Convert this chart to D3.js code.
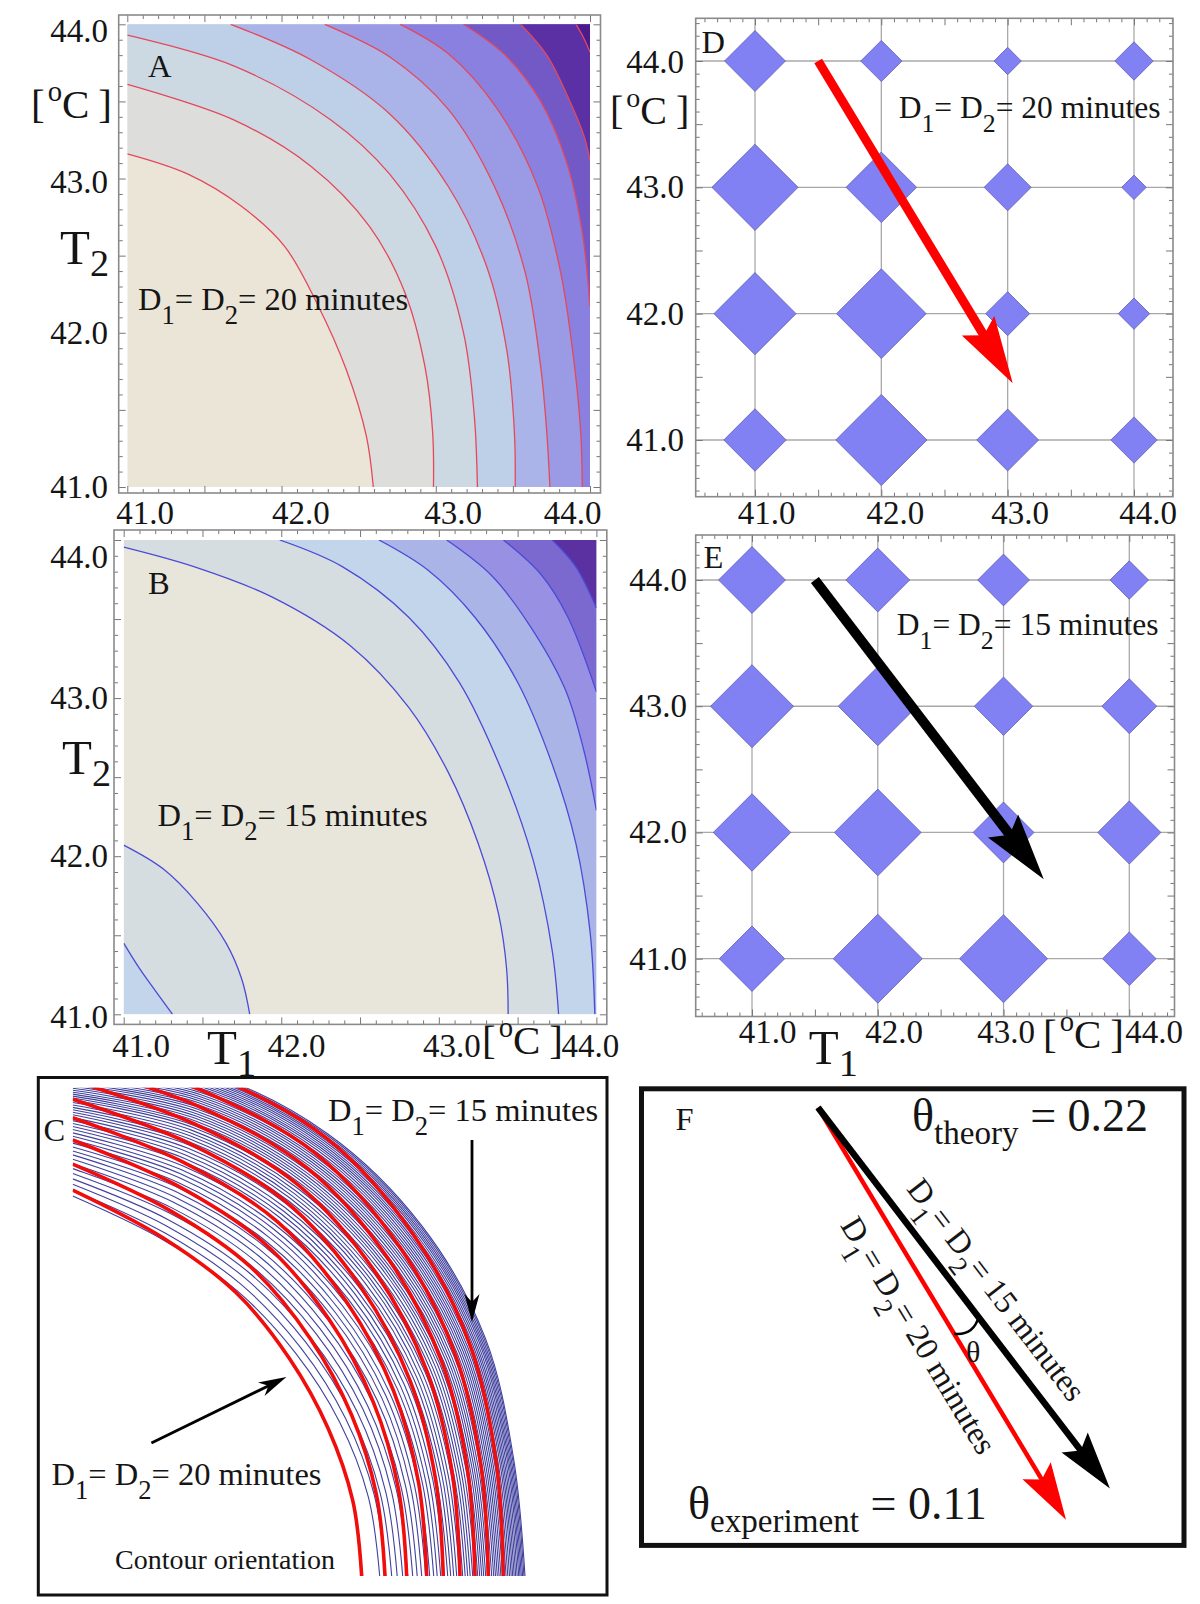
<!DOCTYPE html>
<html><head><meta charset="utf-8">
<script src="https://cdn.jsdelivr.net/npm/d3@7"></script>
<style>
body{margin:0;background:#fff}
svg{display:block}
text{font-family:"Liberation Serif","Times New Roman",Times,serif;fill:#151515}
</style></head>
<body><svg id="fig" width="1200" height="1604"></svg>
<script>
// ================= DATA =================
const axisTicks = [41, 42, 43, 44];
const axisTickLabels = ["41.0", "42.0", "43.0", "44.0"];

// Panel A (D1 = D2 = 20 min) contour lines, [T1, T2] points, ordered toward the hot corner
const contourA1 = [[41.0,43.16],[41.39,43.03],[41.74,42.82],[42.02,42.56],[42.23,42.19],[42.42,41.76],[42.55,41.33],[42.595,41.0]];
const contourA2 = [[41.0,43.61],[41.69,43.38],[42.19,43.08],[42.57,42.69],[42.80,42.26],[42.93,41.78],[42.98,41.35],[42.985,41.0]];
const contourA3 = [[41.0,43.93],[41.69,43.73],[42.32,43.38],[42.70,43.03],[43.00,42.56],[43.18,42.0],[43.25,41.46],[43.27,41.0]];
const contourA4 = [[41.67,44.0],[42.19,43.77],[42.70,43.42],[43.08,42.95],[43.33,42.43],[43.46,41.89],[43.51,41.35],[43.515,41.0]];
const contourA5 = [[42.28,44.0],[42.70,43.79],[43.08,43.45],[43.38,42.95],[43.58,42.39],[43.68,41.78],[43.72,41.35],[43.74,41.0]];
const contourA6 = [[42.77,44.0],[43.08,43.81],[43.40,43.45],[43.66,42.95],[43.81,42.39],[43.90,41.78],[43.94,41.35],[43.95,41.0]];
const contourA7 = [[43.18,44.0],[43.45,43.80],[43.68,43.50],[43.85,43.10],[43.95,42.65],[44.0,42.17]];
const contourA8 = [[43.55,44.0],[43.72,43.80],[43.87,43.50],[43.96,43.28],[44.0,43.12]];
const contourA9 = [[43.91,44.0],[43.96,43.91],[44.0,43.82]];

// Panel B (D1 = D2 = 15 min) contour lines
const contourB1 = [[41.0,43.955],[41.45,43.83],[41.94,43.64],[42.44,43.33],[42.81,42.94],[43.06,42.53],[43.25,42.08],[43.38,41.63],[43.43,41.29],[43.44,41.0]];
const contourB2 = [[41.99,44.0],[42.39,43.83],[42.81,43.51],[43.13,43.10],[43.40,42.54],[43.60,41.97],[43.72,41.40],[43.76,41.0]];
const contourB3 = [[42.62,44.0],[42.93,43.81],[43.23,43.51],[43.50,43.10],[43.72,42.58],[43.87,42.08],[43.96,41.52],[43.99,41.0]];
const contourB4 = [[43.05,44.0],[43.33,43.78],[43.57,43.47],[43.80,43.06],[43.92,42.67],[44.0,42.29]];
const contourB5 = [[43.41,44.0],[43.65,43.78],[43.82,43.51],[44.0,43.04]];
const contourB6 = [[43.72,44.0],[43.87,43.83],[44.0,43.57]];
const contourBlow1 = [[41.0,42.07],[41.25,41.92],[41.47,41.70],[41.65,41.45],[41.75,41.22],[41.80,41.0]];
const contourBlow2 = [[41.0,41.45],[41.10,41.29],[41.20,41.15],[41.31,41.0]];

// Panel D diamonds (half-diagonal, in deg C) per T2 row, T1 = 41..44
const diamondD_T41 = [0.247, 0.361, 0.245, 0.183];
const diamondD_T42 = [0.325, 0.355, 0.174, 0.124];
const diamondD_T43 = [0.341, 0.279, 0.186, 0.097];
const diamondD_T44 = [0.241, 0.163, 0.108, 0.152];
// Panel E diamonds
const diamondE_T41 = [0.260, 0.354, 0.350, 0.213];
const diamondE_T42 = [0.308, 0.345, 0.242, 0.251];
const diamondE_T43 = [0.330, 0.314, 0.232, 0.218];
const diamondE_T44 = [0.266, 0.254, 0.206, 0.153];
// gradient arrows [T1, T2]
const arrowD = [[41.5, 44.0], [43.04, 41.45]];
const arrowE = [[41.5, 44.0], [43.32, 41.63]];

// Panel C: contour families, polar templates (angle deg -> radius units), bottom intercepts
const templateAngles = [0, 15, 30, 45, 60, 75, 90];
const redInner  = [57.8, 58.0, 59.0, 61.4, 65.4, 70.0, 77.2];
const redOuter  = [86.4, 88.0, 92.2, 96.8, 101.6, 104.4, 109.0];
const blueInner = [61.2, 61.0, 61.4, 62.8, 65.6, 69.4, 75.8];
const blueOuter = [90.4, 91.2, 95.2, 98.8, 102.0, 104.0, 104.4];
const redBottoms = [57.8, 62.46, 66.8, 70.8, 74.12, 77.46, 80.46, 83.12, 86.12];
const blueBottoms = [61.4,62.6,63.8,64.9,66.0,67.0,68.0,68.9,69.8,70.6,71.4,72.2,72.9,73.6,74.3,75.0,75.6,76.2,76.8,77.4,78.0,78.5,79.0,79.5,80.0,80.5,81.0,81.4,81.8,82.2,82.6,83.0,83.4,83.8,84.2,84.56,84.92,85.28,85.64,86.0,86.34,86.68,87.02,87.36,87.7,88.0,88.3,88.6,88.9,89.2,89.46,89.72,89.98,90.24,90.46];

// Panel F: orientation of gradient vectors (deg) and angles
const fDirections = [52.54, 58.96];   // black (15 min), red (20 min)
const fLengths = [1.0, 1.002];
const thetaTheory = 0.22;
const thetaExperiment = 0.11;

// ================= STYLE =================
const paletteA = ["#ebe5d7","#dddedb","#ccd9e2","#bed0e8","#abb4e9","#9b9ae5","#8a80df","#7259c5","#5a30a4","#4b1b8d"];
const paletteB = ["#e8e5da","#d6dde1","#c2d5ea","#aab4e7","#9891e3","#7b69d0","#5b30a1"];
const frameColor = "#8a8a8a";
const TICK_FS = 33, LABEL_FS = 32.5, EQ_FS = 32.5, EQ_FS_DE = 31.5;

const svg = d3.select("#fig");

// ================= HELPERS =================
function richText(g, x, y, parts, size, anchor) {
  const t = g.append("text").attr("x", x).attr("y", y).attr("font-size", size)
    .attr("text-anchor", anchor || "start");
  let shift = 0;
  parts.forEach(p => {
    const target = p.sub ? p.sub : (p.sup ? -p.sup : 0);
    const ts = t.append("tspan").text(p.t);
    if (target - shift !== 0) ts.attr("dy", target - shift);
    if (p.dx) ts.attr("dx", p.dx);
    if (p.size) ts.attr("font-size", p.size);
    shift = target;
  });
  return t;
}
const NB = "\u00A0";
function dEq(n) {
  return [{t:"D"},{t:"1",sub:14,size:"0.82em"},{t:"="+NB+"D"},{t:"2",sub:14,size:"0.82em"},{t:"="+NB+n+NB+"minutes"}];
}
const degC = [{t:"["},{t:"o",sup:17,size:"0.7em",dx:3},{t:"C"},{t:"]",dx:9}];
function tLabel(n) { return [{t:"T"},{t:n,sub:12,size:"0.78em"}]; }

function frameTicks(g, rect, xs, ys) {
  const [x1,y1,x2,y2] = rect;
  const xd = [xs.invert(x1), xs.invert(x2)].sort((a,b)=>a-b);
  const yd = [ys.invert(y2), ys.invert(y1)].sort((a,b)=>a-b);
  const vals = (lo,hi) => d3.range(Math.ceil(lo*10+1e-6), Math.floor(hi*10-1e-6)+1).map(v=>v/10);
  const xv = vals(xd[0], xd[1]), yv = vals(yd[0], yd[1]);
  const isMajor = v => Math.abs(v*2 - Math.round(v*2)) < 1e-6;
  const sets = [[xv.filter(v=>!isMajor(v)), 4], [xv.filter(isMajor), 7]];
  const ysets = [[yv.filter(v=>!isMajor(v)), 4], [yv.filter(isMajor), 7]];
  sets.forEach(([v,len]) => {
    g.append("g").attr("transform",`translate(0,${y2})`).call(d3.axisBottom(xs).tickValues(v).tickSize(-len).tickFormat(""));
    g.append("g").attr("transform",`translate(0,${y1})`).call(d3.axisTop(xs).tickValues(v).tickSize(-len).tickFormat(""));
  });
  ysets.forEach(([v,len]) => {
    g.append("g").attr("transform",`translate(${x1},0)`).call(d3.axisLeft(ys).tickValues(v).tickSize(-len).tickFormat(""));
    g.append("g").attr("transform",`translate(${x2},0)`).call(d3.axisRight(ys).tickValues(v).tickSize(-len).tickFormat(""));
  });
  g.selectAll(".domain").remove();
  g.selectAll(".tick line").attr("stroke", "#777").attr("stroke-width", 1);
  g.append("rect").attr("x",x1).attr("y",y1).attr("width",x2-x1).attr("height",y2-y1)
    .attr("fill","none").attr("stroke",frameColor).attr("stroke-width",1.6);
}

function tickLabels(g, xs, ys, o) {
  axisTicks.forEach((v,i) => {
    g.append("text").attr("x", xs(v) + o.xdx[i]).attr("y", o.xBase)
      .attr("text-anchor","middle").attr("font-size",TICK_FS).text(axisTickLabels[i]);
    g.append("text").attr("x", o.yRight).attr("y", ys(v) + o.ydy[i] + 11)
      .attr("text-anchor","end").attr("font-size",TICK_FS).text(axisTickLabels[i]);
  });
}

function drawArrow(g, x1, y1, x2, y2, o) {
  const dx = x2-x1, dy = y2-y1, L = Math.hypot(dx,dy), ux = dx/L, uy = dy/L, nx = -uy, ny = ux;
  const bx = x2 - ux*o.headL, by = y2 - uy*o.headL;
  const mX = x2 - ux*(o.headL - o.notch), mY = y2 - uy*(o.headL - o.notch);
  g.append("line").attr("x1",x1).attr("y1",y1).attr("x2",mX+ux*2).attr("y2",mY+uy*2)
    .attr("stroke",o.color).attr("stroke-width",o.shaft);
  g.append("path").attr("d",`M${x2},${y2}L${bx+nx*o.headW/2},${by+ny*o.headW/2}L${mX},${mY}L${bx-nx*o.headW/2},${by-ny*o.headW/2}Z`)
    .attr("fill",o.color);
}

function bandPath(xs, ys, pts, corner) {
  const line = d3.line().x(d=>xs(d[0])).y(d=>ys(d[1])).curve(d3.curveCatmullRom.alpha(0.5));
  let d = line(pts);
  const extra = [];
  if (corner === "tr") {
    const first = pts[0], last = pts[pts.length-1];
    if (last[1] <= 41.0001) extra.push([44,41]);
    extra.push([44,44]);
    if (first[0] <= 41.0001) extra.push([41,44]);
  } else {
    extra.push([41,41]);
  }
  extra.forEach(p => { d += `L${xs(p[0])},${ys(p[1])}`; });
  return d + "Z";
}

function contourPanel(id, xs, ys, bands, palette, lineColor) {
  const g = svg.append("g");
  const clipId = "clip" + id;
  g.append("clipPath").attr("id", clipId).append("rect")
    .attr("x", xs(41)).attr("y", ys(44)).attr("width", xs(44)-xs(41)).attr("height", ys(41)-ys(44));
  const body = g.append("g").attr("clip-path", `url(#${clipId})`);
  body.append("rect").attr("x", xs(41)).attr("y", ys(44)).attr("width", xs(44)-xs(41)).attr("height", ys(41)-ys(44))
    .attr("fill", palette[0]);
  bands.forEach(b => body.append("path").attr("d", bandPath(xs, ys, b.pts, b.corner)).attr("fill", palette[b.color]));
  const line = d3.line().x(d=>xs(d[0])).y(d=>ys(d[1])).curve(d3.curveCatmullRom.alpha(0.5));
  bands.forEach(b => body.append("path").attr("d", line(b.pts)).attr("fill","none")
    .attr("stroke", lineColor).attr("stroke-width", 1.3));
  return g;
}

// ================= PANEL A =================
const xA = d3.scaleLinear().domain([41,44]).range([127.3,590]);
const yA = d3.scaleLinear().domain([41,44]).range([487,24.3]);
const gA = contourPanel("A", xA, yA, [
  {pts:contourA1,corner:"tr",color:1},{pts:contourA2,corner:"tr",color:2},{pts:contourA3,corner:"tr",color:3},
  {pts:contourA4,corner:"tr",color:4},{pts:contourA5,corner:"tr",color:5},{pts:contourA6,corner:"tr",color:6},
  {pts:contourA7,corner:"tr",color:7},{pts:contourA8,corner:"tr",color:8},{pts:contourA9,corner:"tr",color:9}
], paletteA, "#e4485a");
frameTicks(gA, [118.7,15,600.5,493], xA, yA);
tickLabels(gA, xA, yA, {xdx:[17.7,19.3,17.3,-17.5], xBase:524, yRight:108, ydy:[0,0,3.5,7]});
gA.append("text").attr("x",148).attr("y",77).attr("font-size",LABEL_FS).text("A");
richText(gA, 138, 310, dEq("20"), EQ_FS);
richText(gA, 31, 118, degC, 41);
richText(gA, 60, 264, tLabel("2"), 49);

// ================= PANEL B =================
const xB = d3.scaleLinear().domain([41,44]).range([123.7,596.4]);
const yB = d3.scaleLinear().domain([41,44]).range([1014.3,540]);
const gB = contourPanel("B", xB, yB, [
  {pts:contourB1,corner:"tr",color:1},{pts:contourB2,corner:"tr",color:2},{pts:contourB3,corner:"tr",color:3},
  {pts:contourB4,corner:"tr",color:4},{pts:contourB5,corner:"tr",color:5},{pts:contourB6,corner:"tr",color:6},
  {pts:contourBlow1,corner:"bl",color:1},{pts:contourBlow2,corner:"bl",color:2}
], paletteB, "#4b4bd6");
frameTicks(gB, [114,530,606.8,1024.4], xB, yB);
tickLabels(gB, xB, yB, {xdx:[17.3,15.3,13,-6], xBase:1057, yRight:108, ydy:[2.7,0,0,17]});
gB.append("text").attr("x",148).attr("y",594).attr("font-size",LABEL_FS).text("B");
richText(gB, 157.5, 826, dEq("15"), EQ_FS);
richText(gB, 62, 774, tLabel("2"), 49);
richText(gB, 207, 1064, tLabel("1"), 49);
richText(gB, 482, 1054, degC, 41);

// ================= PANELS D, E =================
function diamondPanel(xs, ys, rect, rows, arrow, arrowColor, o) {
  const g = svg.append("g");
  const [x1,y1,x2,y2] = rect;
  g.append("rect").attr("x",x1).attr("y",y1).attr("width",x2-x1).attr("height",y2-y1).attr("fill","#fff");
  axisTicks.forEach(v => {
    g.append("line").attr("x1",x1).attr("x2",x2).attr("y1",ys(v)).attr("y2",ys(v)).attr("stroke","#a9a9a9").attr("stroke-width",1.3);
    g.append("line").attr("y1",y1).attr("y2",y2).attr("x1",xs(v)).attr("x2",xs(v)).attr("stroke","#a9a9a9").attr("stroke-width",1.3);
  });
  const cells = [];
  rows.forEach((row, j) => row.forEach((v, i) => cells.push({t1: axisTicks[i], t2: axisTicks[j], v})));
  g.selectAll("path.dia").data(cells).enter().append("path").attr("class","dia")
    .attr("d", d => {
      const cx = xs(d.t1), cy = ys(d.t2), r = xs(41 + d.v) - xs(41);
      return `M${cx},${cy-r}L${cx+r},${cy}L${cx},${cy+r}L${cx-r},${cy}Z`;
    })
    .attr("fill","#8181f3").attr("stroke","#5c5cb8").attr("stroke-width",0.8);
  drawArrow(g, xs(arrow[0][0]), ys(arrow[0][1]), xs(arrow[1][0]), ys(arrow[1][1]),
    {color: arrowColor, shaft: o.shaft, headL: 67, headW: 38, notch: 11});
  frameTicks(g, rect, xs, ys);
  return g;
}
const xD = d3.scaleLinear().domain([41,44]).range([755,1134]);
const yD = d3.scaleLinear().domain([41,44]).range([440,61]);
const gD = diamondPanel(xD, yD, [695.7,18.3,1173,496.7],
  [diamondD_T41, diamondD_T42, diamondD_T43, diamondD_T44], arrowD, "#ff0000", {shaft: 9});
tickLabels(gD, xD, yD, {xdx:[11.6,14,12.4,14], xBase:524, yRight:684, ydy:[0,0,0,0.5]});
gD.append("text").attr("x",701.5).attr("y",53).attr("font-size",LABEL_FS).text("D");
richText(gD, 898.7, 118, dEq("20"), EQ_FS_DE);
richText(gD, 610, 124, degC, 40);

const xE = d3.scaleLinear().domain([41,44]).range([752,1129.3]);
const yE = d3.scaleLinear().domain([41,44]).range([958.7,580]);
const gE = diamondPanel(xE, yE, [695.7,535,1174.5,1016.5],
  [diamondE_T41, diamondE_T42, diamondE_T43, diamondE_T44], arrowE, "#000000", {shaft: 10});
tickLabels(gE, xE, yE, {xdx:[15.5,16.3,2.7,24.7], xBase:1043, yRight:687, ydy:[0,0,0,0]});
gE.append("text").attr("x",703.4).attr("y",568).attr("font-size",LABEL_FS).text("E");
richText(gE, 896.8, 635, dEq("15"), EQ_FS_DE);
richText(gE, 808.7, 1064, tLabel("1"), 49);
richText(gE, 1043, 1048, degC, 41);

// ================= PANEL C =================
const gC = svg.append("g");
gC.append("rect").attr("x",38.3).attr("y",1077.5).attr("width",607-38.3).attr("height",1595-1077.5)
  .attr("fill","#fff").attr("stroke","#111").attr("stroke-width",3);
const cOrigin = [72.7, 1576];
const rC = d3.scaleLinear().domain([0, 100]).range([0, 500]);
gC.append("clipPath").attr("id","clipC").append("rect").attr("x",72.7).attr("y",1087.7).attr("width",530).attr("height",1576-1087.7);
const cBody = gC.append("g").attr("clip-path","url(#clipC)");
const cLine = d3.line().curve(d3.curveCatmullRom.alpha(0.5));
function familyPaths(inner, outer, bottoms) {
  return bottoms.map(b => {
    const s = (b - inner[0]) / (outer[0] - inner[0]);
    return cLine(templateAngles.map((a, k) => {
      const r = rC(inner[k] + s * (outer[k] - inner[k])), ang = a * Math.PI / 180;
      return [cOrigin[0] + r * Math.cos(ang), cOrigin[1] - r * Math.sin(ang)];
    }));
  });
}
cBody.selectAll("path.blue").data(familyPaths(blueInner, blueOuter, blueBottoms)).enter().append("path")
  .attr("class","blue").attr("d", d => d).attr("fill","none").attr("stroke","#41419e").attr("stroke-width",1.1);
cBody.selectAll("path.red").data(familyPaths(redInner, redOuter, redBottoms)).enter().append("path")
  .attr("class","red").attr("d", d => d).attr("fill","none").attr("stroke","#f20d0d").attr("stroke-width",3.6);
gC.append("text").attr("x",43.5).attr("y",1141).attr("font-size",LABEL_FS).text("C");
richText(gC, 328, 1121, dEq("15"), EQ_FS);
richText(gC, 51.4, 1485, dEq("20"), EQ_FS);
gC.append("text").attr("x",115).attr("y",1569).attr("font-size",28).text("Contour orientation");
drawArrow(gC, 472, 1140, 472, 1322, {color:"#000", shaft:2.8, headL:28, headW:15, notch:8});
drawArrow(gC, 151.4, 1443, 286.4, 1377, {color:"#000", shaft:2.8, headL:28, headW:15, notch:8});

// ================= PANEL F =================
const gF = svg.append("g");
gF.append("rect").attr("x",641.5).attr("y",1088.8).attr("width",1184-641.5).attr("height",1545.4-1088.8)
  .attr("fill","#fff").attr("stroke","#111").attr("stroke-width",5);
const fOrigin = [818, 1107.6];
const fLen = d3.scaleLinear().domain([0,1]).range([0,480]);
const fDir = fDirections.map(a => a * Math.PI / 180);
const fEnd = fDir.map((a,i) => [fOrigin[0] + fLen(fLengths[i]) * Math.cos(a), fOrigin[1] + fLen(fLengths[i]) * Math.sin(a)]);
drawArrow(gF, fOrigin[0], fOrigin[1], fEnd[1][0], fEnd[1][1], {color:"#ff0000", shaft:4.5, headL:57, headW:33, notch:10});
drawArrow(gF, fOrigin[0], fOrigin[1], fEnd[0][0], fEnd[0][1], {color:"#000", shaft:6.5, headL:58, headW:33, notch:10});
// theta arc between the two directions
const arcR = fLen(0.55);
const pA = [fOrigin[0] + arcR*Math.cos(fDir[1]), fOrigin[1] + arcR*Math.sin(fDir[1])];
const pB = [fOrigin[0] + arcR*Math.cos(fDir[0]), fOrigin[1] + arcR*Math.sin(fDir[0])];
const mid = (fDir[0]+fDir[1])/2, bulge = arcR + 12;
gF.append("path").attr("d", `M${pA[0]},${pA[1]}Q${fOrigin[0]+bulge*Math.cos(mid)},${fOrigin[1]+bulge*Math.sin(mid)} ${pB[0]},${pB[1]}`)
  .attr("fill","none").attr("stroke","#000").attr("stroke-width",2.4);
gF.append("text").attr("x",966).attr("y",1362).attr("font-size",30).text("θ");
gF.append("text").attr("x",675.5).attr("y",1130).attr("font-size",LABEL_FS).text("F");
richText(gF, 912, 1131, [{t:"θ"},{t:"theory",sub:13,size:"0.72em"},{t:NB+"="+NB+thetaTheory.toFixed(2)}], 46);
richText(gF, 688, 1519, [{t:"θ"},{t:"experiment",sub:13,size:"0.72em"},{t:NB+"="+NB+thetaExperiment.toFixed(2)}], 46);
function rotText(dirIdx, along, off, n) {
  const a = fDir[dirIdx], ux = Math.cos(a), uy = Math.sin(a), nx = uy, ny = -ux;
  const px = fOrigin[0] + ux*along + nx*off, py = fOrigin[1] + uy*along + ny*off;
  const g = gF.append("g").attr("transform", `translate(${px},${py}) rotate(${fDirections[dirIdx]})`);
  richText(g, 0, 0, dEq(n), EQ_FS);
}
rotText(0, 118, 20, "15");
rotText(1, 112, -42, "20");
</script></body></html>
